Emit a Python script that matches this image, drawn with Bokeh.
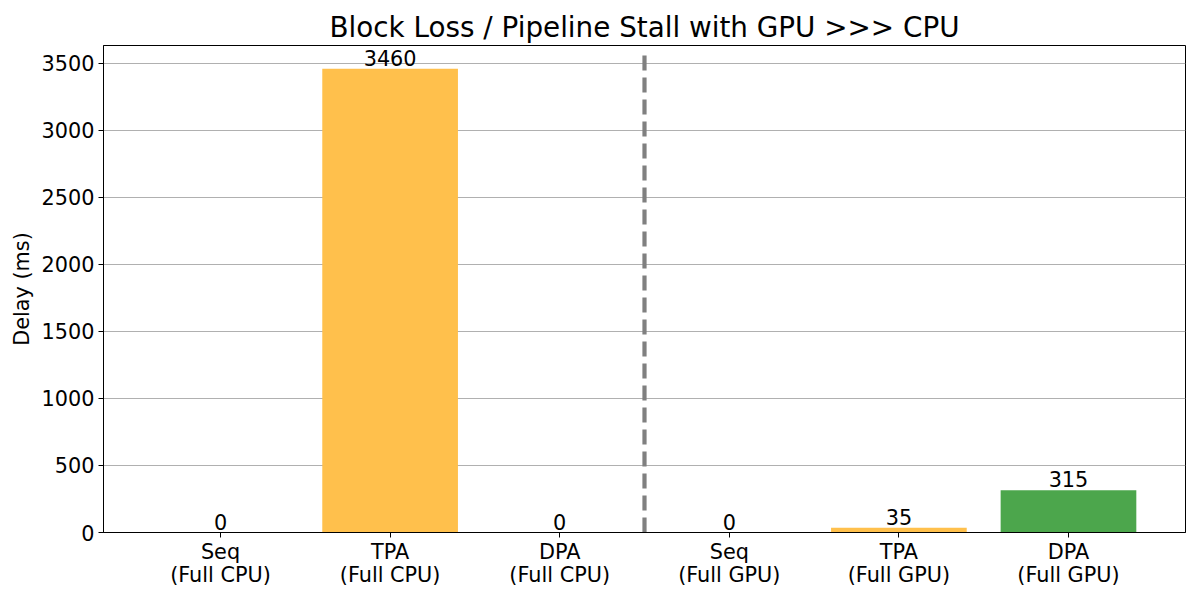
from bokeh.plotting import figure
from bokeh.models import ColumnDataSource, FixedTicker, Range1d
from bokeh.core.properties import value
from bokeh.embed import file_html
from bokeh.resources import INLINE

categories = ["Seq\n(Full CPU)", "TPA\n(Full CPU)", "DPA\n(Full CPU)",
              "Seq\n(Full GPU)", "TPA\n(Full GPU)", "DPA\n(Full GPU)"]
delays = [0, 3460, 0, 0, 35, 315]
bar_colors = ["#FFC04C", "#FFC04C", "#FFC04C", "#FFC04C", "#FFC04C", "#4CA64C"]
y_ticks = [0, 500, 1000, 1500, 2000, 2500, 3000, 3500]

FONT = "DejaVu Sans"
FS = "20.8px"
n = len(categories)
xs = list(range(n))
ymax = max(delays) * 1.05

src = ColumnDataSource(dict(x=xs, top=delays, color=bar_colors,
                            label=[str(v) for v in delays]))

p = figure(width=1200, height=600, output_backend="svg", toolbar_location=None,
           x_range=Range1d(-0.4 - 0.05 * (n - 1 + 0.8), n - 1 + 0.4 + 0.05 * (n - 1 + 0.8)),
           y_range=Range1d(0, ymax),
           min_border_left=103, min_border_right=15, min_border_top=45, min_border_bottom=68)

p.title.text = "Block Loss / Pipeline Stall with GPU >>> CPU"
p.title.align = "center"
p.title.text_font = FONT
p.title.text_font_size = "27.8px"
p.title.text_font_style = "normal"
p.title.text_color = "black"
p.title.standoff = 3

p.vbar(x="x", top="top", width=0.8, bottom=0, color="color", source=src, line_color=None)
p.text(x="x", y="top", text="label", source=src, text_align="center", text_baseline="bottom",
       y_offset=-3, text_font=value(FONT), text_font_size=FS, text_color="black")

# divider between CPU and GPU groups
div_x = (n / 2) - 0.5
p.segment(x0=[div_x], y0=[0], x1=[div_x], y1=[ymax * 0.985], line_color="gray",
          line_width=4.2, line_dash="15 7")

p.xgrid.visible = False
p.ygrid.grid_line_color = "#b0b0b0"
p.ygrid.grid_line_width = 1

p.xaxis.ticker = FixedTicker(ticks=xs)
p.xaxis.major_label_overrides = {i: c for i, c in zip(xs, categories)}
p.xaxis.major_label_text_line_height = 0.98
p.yaxis.ticker = FixedTicker(ticks=y_ticks)
p.yaxis.axis_label = "Delay (ms)"

for ax in (p.xaxis, p.yaxis):
    ax.major_label_text_font = FONT
    ax.major_label_text_font_size = FS
    ax.major_label_text_color = "black"
    ax.axis_line_color = "black"
    ax.major_tick_line_color = "black"
    ax.major_tick_out = 5
    ax.major_tick_in = 0
    ax.minor_tick_line_color = None
    ax.axis_label_text_font = FONT
    ax.axis_label_text_font_size = FS
    ax.axis_label_text_font_style = "normal"
    ax.axis_label_text_color = "black"

p.xaxis.major_label_standoff = 2
p.yaxis.major_label_standoff = 4

p.outline_line_color = "black"
p.outline_line_alpha = 1
p.background_fill_color = "white"
p.border_fill_color = "white"

open("out.html", "w").write(file_html(p, INLINE))
